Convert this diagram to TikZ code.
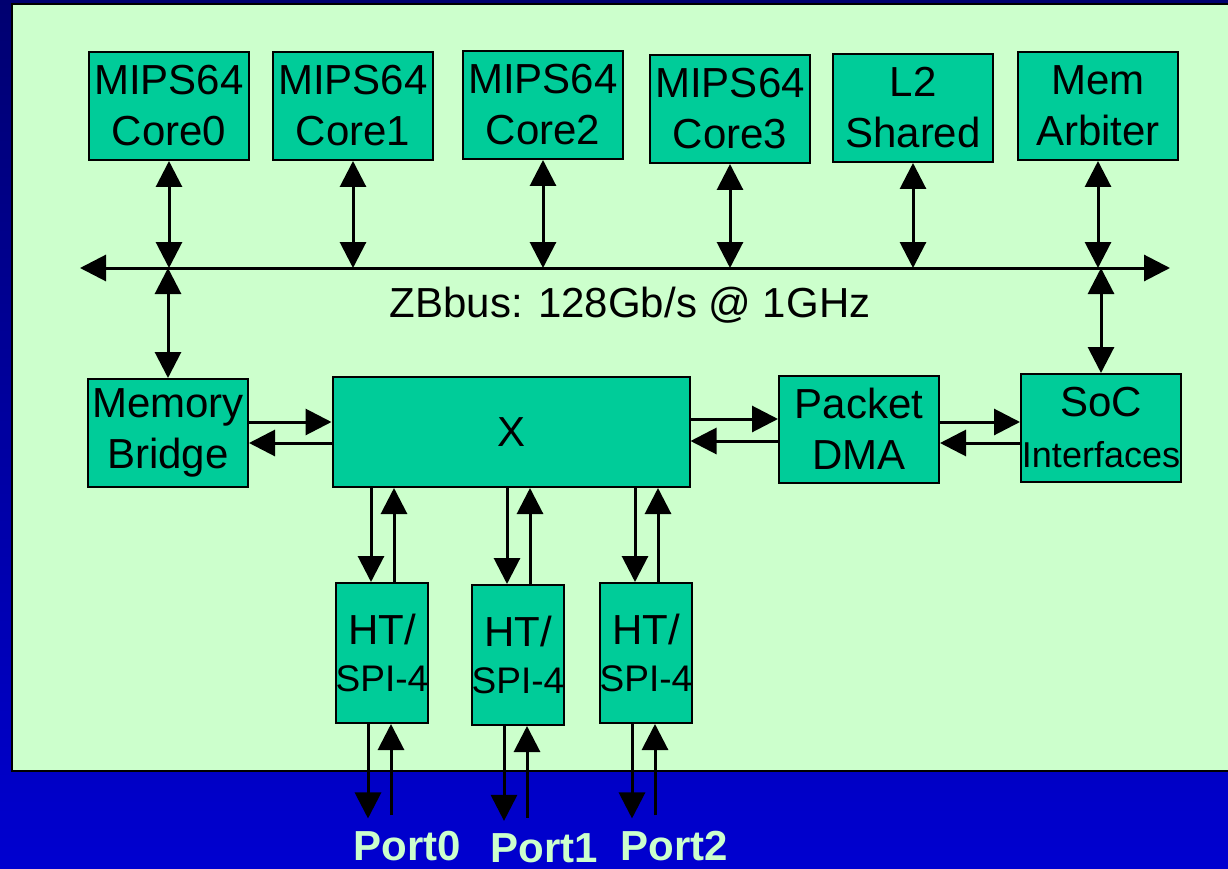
\documentclass[tikz,border=0pt]{standalone}
\usepackage{fontspec}
\setmainfont{Liberation Sans}
\usetikzlibrary{arrows.meta,positioning,calc}
\definecolor{panelgreen}{HTML}{CCFFCC}
\definecolor{blockgreen}{HTML}{00CC99}
\definecolor{slideblue}{HTML}{0000D0}
\definecolor{slidenavy}{HTML}{000070}

\begin{document}
\begin{tikzpicture}[
  x=1pt, y=-1pt,
  blk/.style={draw, line width=2pt, fill=blockgreen, inner sep=0pt, align=center, minimum width=160pt, minimum height=108pt, font=\fontsize{42}{51}\selectfont},
  htbox/.style={blk, minimum width=92pt, minimum height=140pt},
  port/.style={font=\fontsize{42}{50}\selectfont\bfseries, text=panelgreen, inner sep=0pt},
  arr/.style={-{Triangle[length=26pt,width=26pt]}, line width=3pt},
  dbl/.style={{Triangle[length=26pt,width=26pt]}-{Triangle[length=26pt,width=26pt]}, line width=3pt},
]
\useasboundingbox (0,0) rectangle (1228,869);
\shade[top color=slidenavy, bottom color=slideblue] (0,0) rectangle (1228,869);
\draw[line width=2pt, fill=panelgreen] (12,4) rectangle (1240,771);

% top row
\node[blk] (core0) at (169,106) {MIPS64\\Core0};
\node[blk] (core1) at (353,106) {MIPS64\\Core1};
\node[blk] (core2) at (543,105) {MIPS64\\Core2};
\node[blk] (core3) at (730,109) {MIPS64\\Core3};
\node[blk] (l2) at (913,108) {L2\\Shared};
\node[blk] (arb) at (1098,106) {Mem\\Arbiter};

% bus
\coordinate (busL) at (80,268);
\coordinate (busR) at (1170,268);
\draw[dbl] (busL) -- (busR);
\node[font=\fontsize{42}{51}\selectfont] (zb) at (630,305) {ZBbus: 128Gb/s @ 1GHz};

% middle row
\node[blk] (mbr) at (168,433) {Memory\\Bridge};
\node[blk, minimum width=357pt, minimum height=110pt] (xbar) at (511,432) {X};
\node[blk, minimum height=107pt] (pdma) at (859,429) {Packet\\DMA};
\node[blk] (soc) at (1101,428) {SoC\\{\fontsize{36}{44}\selectfont Interfaces}};

% HT/SPI-4 ports
\node[htbox] (ht0) at (382,653) {HT/\\[-4pt]{\fontsize{37}{46}\selectfont SPI-4}};
\node[htbox] (ht1) at (518,655) {HT/\\[-4pt]{\fontsize{37}{46}\selectfont SPI-4}};
\node[htbox] (ht2) at (646,653) {HT/\\[-4pt]{\fontsize{37}{46}\selectfont SPI-4}};
\node[port, anchor=base] (port0) at (407,860) {Port0};
\node[port, anchor=base] (port1) at (544,862) {Port1};
\node[port, anchor=base] (port2) at (674,860) {Port2};

\foreach \n in {core0,core1,core2,core3,l2,arb}
  \draw[dbl] (\n.south) -- (\n.south |- busL);
\draw[dbl] (busL -| mbr.north) -- (mbr.north);
\draw[dbl] (busL -| soc.north) -- (soc.north);

\draw[arr] ([yshift=11pt]mbr.east) -- ([yshift=11pt]mbr.east -| xbar.west);
\draw[arr] ([yshift=-11pt]xbar.west) -- ([yshift=-11pt]xbar.west -| mbr.east);
\draw[arr] ([yshift=13pt]xbar.east) -- ([yshift=13pt]xbar.east -| pdma.west);
\draw[arr] ([yshift=-12pt]pdma.west) -- ([yshift=-12pt]pdma.west -| xbar.east);
\draw[arr] ([yshift=7pt]pdma.east) -- ([yshift=7pt]pdma.east -| soc.west);
\draw[arr] ([yshift=-15pt]soc.west) -- ([yshift=-15pt]soc.west -| pdma.east);

\foreach \h/\p in {ht0/port0,ht1/port1,ht2/port2} {
  \draw[arr] ([xshift=-11pt]\h.north |- xbar.south) -- ([xshift=-11pt]\h.north);
  \draw[arr] ([xshift=12pt]\h.north) -- ([xshift=12pt]\h.north |- xbar.south);
  \draw[arr, shorten >=12pt] ([xshift=-14pt]\h.south) -- ([xshift=-14pt]\h.south |- \p.north);
  \draw[arr, shorten <=15pt] ([xshift=9pt]\h.south |- \p.north) -- ([xshift=9pt]\h.south);
}
\end{tikzpicture}
\end{document}
